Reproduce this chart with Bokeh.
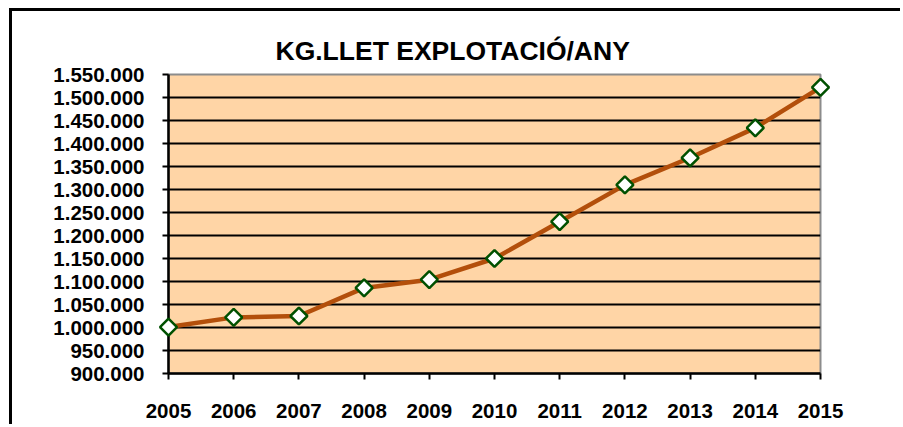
from bokeh.plotting import figure
from bokeh.models import Range1d, FixedTicker
from bokeh.embed import file_html
from bokeh.resources import INLINE

# ---- data ----
years = [2005, 2006, 2007, 2008, 2009, 2010, 2011, 2012, 2013, 2014, 2015]
kg_llet = [1001000, 1022000, 1025000, 1086000, 1104000, 1150000,
           1230000, 1310000, 1369000, 1434000, 1522000]
y_ticks = [900000, 950000, 1000000, 1050000, 1100000, 1150000, 1200000,
           1250000, 1300000, 1350000, 1400000, 1450000, 1500000, 1550000]
y_tick_labels = ["900.000", "950.000", "1.000.000", "1.050.000", "1.100.000",
                 "1.150.000", "1.200.000", "1.250.000", "1.300.000", "1.350.000",
                 "1.400.000", "1.450.000", "1.500.000", "1.550.000"]
x_tick_labels = ["2005", "2006", "2007", "2008", "2009", "2010", "2011",
                 "2012", "2013", "2014", "2015"]
chart_title = "KG.LLET EXPLOTACIÓ/ANY"

FONT = "Liberation Sans"
PEACH = "#FFD5A6"

p = figure(width=891, height=416, output_backend="svg", toolbar_location=None,
           x_range=Range1d(years[0], years[-1]),
           y_range=Range1d(y_ticks[0], y_ticks[-1]),
           min_border_left=156, min_border_right=83,
           min_border_top=63, min_border_bottom=54,
           title=chart_title)
p.margin = (11, 0, 0, 12)
p.styles = {"box-shadow": "-3px -3px 0px 0px black"}

p.title.align = "left"
p.title.offset = 107
p.title.standoff = 17
p.title.text_font = FONT
p.title.text_font_size = "26.5px"
p.title.text_font_style = "bold"
p.title.text_color = "black"

p.background_fill_color = PEACH
p.border_fill_color = "white"
p.outline_line_color = "#8C8C8C"
p.outline_line_width = 2

# axes
p.xaxis.ticker = FixedTicker(ticks=years)
p.xaxis.major_label_overrides = {y: l for y, l in zip(years, x_tick_labels)}
p.yaxis.ticker = FixedTicker(ticks=y_ticks)
p.yaxis.major_label_overrides = {t: l for t, l in zip(y_ticks, y_tick_labels)}
for ax in (p.xaxis, p.yaxis):
    ax.axis_line_color = "black"
    ax.axis_line_width = 2.5
    ax.major_tick_line_color = "black"
    ax.major_tick_line_width = 2
    ax.major_tick_in = 0
    ax.major_tick_out = 6
    ax.minor_tick_line_color = None
    ax.major_label_text_font = FONT
    ax.major_label_text_font_size = "20.5px"
    ax.major_label_text_font_style = "bold"
    ax.major_label_text_color = "black"
p.xaxis.major_label_standoff = 24
p.yaxis.major_label_standoff = 18

p.xgrid.visible = False
p.ygrid.ticker = FixedTicker(ticks=y_ticks[1:-1])
p.ygrid.grid_line_color = "black"
p.ygrid.grid_line_width = 2

# series drawn at overlay level so the end markers are not clipped by the frame
p.line(years, kg_llet, line_color="#B34F0B", line_width=4.5, level="overlay")
p.scatter(years, kg_llet, marker="square", size=12, angle=0.785398,
          fill_color="white", line_color="#005000", line_width=2.5,
          level="overlay")

open("out.html", "w").write(file_html(p, INLINE))
